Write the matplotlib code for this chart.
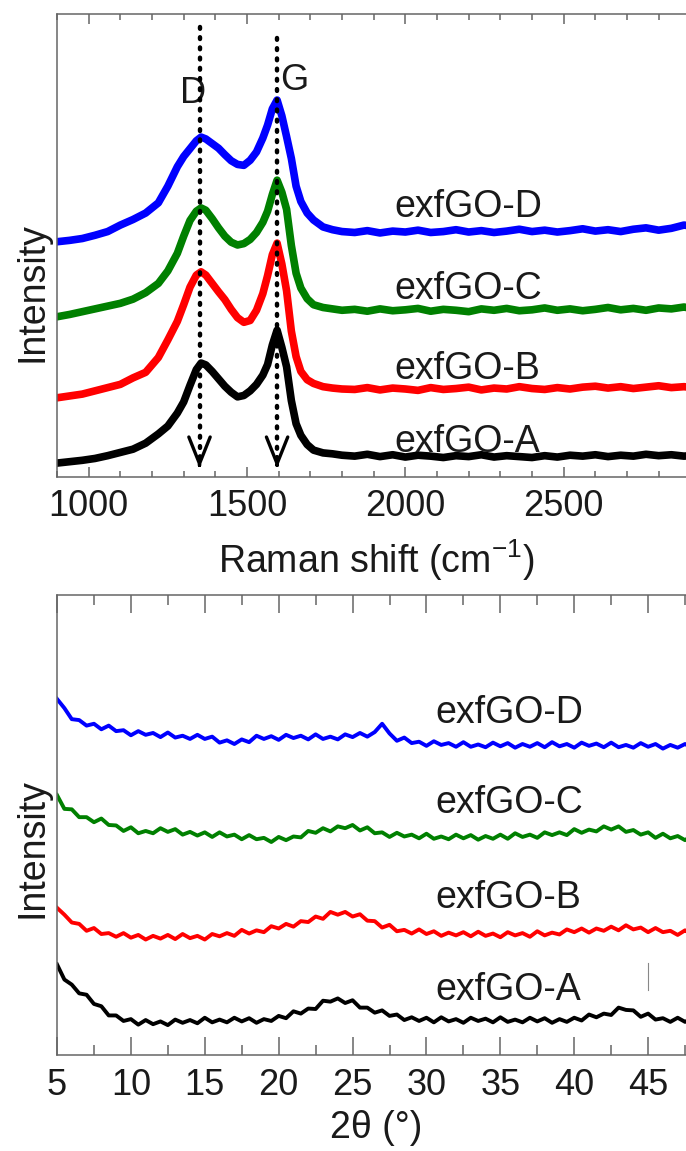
import numpy as np
import matplotlib
matplotlib.use("Agg")
import matplotlib.pyplot as plt
from matplotlib.ticker import MultipleLocator, FixedLocator

plt.rcParams['font.family'] = ['Liberation Sans', 'DejaVu Sans']
plt.rcParams['mathtext.fontset'] = 'custom'
plt.rcParams['mathtext.rm'] = 'Liberation Sans'
plt.rcParams['mathtext.default'] = 'regular'

# ─── Raman spectra (stacked, a.u.) ───────────────────────────
raman_shift = [900, 940, 980, 1020, 1060, 1100, 1140, 1180, 1220, 1250,
               1280, 1300, 1320, 1340, 1355, 1370, 1390, 1410, 1430, 1450,
               1470, 1490, 1510, 1530, 1550, 1565, 1580, 1595, 1610, 1625,
               1640, 1655, 1670, 1690, 1710, 1740, 1770, 1800,
               1840, 1880, 1920, 1960, 2000, 2040, 2080, 2120, 2160, 2200,
               2240, 2280, 2320, 2360, 2400, 2440, 2480, 2520, 2560, 2600,
               2640, 2680, 2720, 2760, 2800, 2840, 2880, 2920, 2960, 3000]

raman_a = [3.0, 3.3, 3.6, 4.0, 4.6, 5.3, 6.0, 7.3, 9.3, 11.0,
           13.8, 16.2, 19.8, 23.2, 24.6, 24.2, 22.8, 21.2, 19.6, 18.3,
           17.3, 17.6, 18.6, 20.0, 22.0, 24.3, 28.5, 31.7, 28.0, 23.8,
           16.5, 11.5, 9.0, 7.0, 5.8, 5.2, 5.0, 4.7,
           4.5, 4.9, 4.4, 4.8, 4.3, 4.7, 4.5, 4.2, 4.6, 4.4,
           4.8, 4.3, 4.6, 4.4, 4.2, 4.6, 4.3, 4.7, 4.5, 4.8,
           4.4, 4.7, 4.5, 4.9, 4.6, 4.8, 4.5, 4.7, 4.4, 4.6]

raman_b = [17.1, 17.5, 17.9, 18.6, 19.3, 20.0, 21.4, 22.6, 25.8, 29.6,
           33.6, 37.2, 41.0, 43.6, 44.3, 43.6, 41.8, 40.0, 38.3, 36.2,
           34.4, 33.4, 33.8, 36.0, 39.6, 43.5, 48.0, 50.5, 46.0, 40.2,
           31.5, 26.0, 22.8, 21.0, 20.2, 19.5, 19.2, 19.0,
           18.9, 19.3, 18.8, 19.2, 19.0, 18.7, 19.3, 18.9, 19.1, 19.4,
           18.8, 19.2, 19.0, 19.5, 19.1, 18.9, 19.3, 19.0, 19.4, 19.6,
           19.2, 19.5, 19.1, 19.4, 19.7, 19.3, 19.5, 19.2, 19.6, 19.4]

raman_c = [34.6, 35.1, 35.7, 36.3, 36.9, 37.5, 38.4, 39.8, 41.8, 44.5,
           48.3, 52.0, 55.4, 57.4, 58.1, 57.6, 55.8, 53.8, 52.0, 50.7,
           50.1, 50.4, 51.3, 52.8, 55.0, 57.4, 61.0, 64.1, 61.5, 57.8,
           50.0, 44.0, 40.8, 38.5, 37.2, 36.6, 36.3, 36.0,
           36.2, 35.8, 36.3, 35.9, 36.1, 36.4, 35.8, 36.2, 36.0, 35.7,
           36.3, 36.0, 36.4, 35.9, 36.1, 36.5, 36.0, 36.3, 35.9, 36.2,
           36.6, 36.1, 36.4, 36.0, 36.5, 36.3, 36.7, 36.2, 36.6, 36.4]

raman_d = [50.8, 51.1, 51.5, 52.2, 53.0, 54.4, 55.6, 57.0, 59.2, 62.8,
           67.0, 69.2, 70.9, 72.6, 73.4, 73.0, 72.0, 71.0, 69.6, 68.3,
           67.5, 67.3, 68.4, 70.2, 73.2, 76.0, 79.5, 81.4, 78.0, 73.5,
           68.8, 62.8, 59.5, 57.0, 55.5, 54.0, 53.4, 53.0,
           52.8, 53.2, 52.7, 53.1, 52.9, 53.3, 52.8, 53.0, 53.4, 52.9,
           53.2, 52.8, 53.1, 53.5, 53.0, 53.3, 52.9, 53.2, 53.6, 53.1,
           53.4, 53.0, 53.5, 53.8, 53.3, 53.7, 54.4, 54.0, 53.8, 54.2]

band_pos = [1350, 1595]
band_top = [97.2, 94.8]
band_names = ['D', 'G']

# ─── XRD patterns (stacked, a.u.), 2θ step 0.5° ──────────────
two_theta = np.arange(5.0, 50.5, 0.5)

xrd_a = [19.7, 16.4, 15.3, 13.4, 13.1, 11.1, 10.6, 8.6, 8.6, 7.4,
         7.8, 6.6, 7.6, 6.7, 7.3, 6.5, 7.7, 7.0, 7.6, 6.9,
         8.1, 7.1, 7.7, 7.1, 8.1, 7.3, 8.0, 7.0, 7.8, 7.4,
         8.5, 8.0, 9.5, 9.0, 10.1, 10.0, 11.8, 11.6, 12.3, 11.3,
         11.9, 10.3, 10.3, 9.2, 9.7, 8.5, 8.8, 7.6, 8.2, 7.4,
         8.1, 7.1, 8.2, 7.3, 7.8, 7.0, 8.1, 7.4, 7.9, 7.1,
         8.2, 7.2, 7.7, 7.1, 8.1, 7.3, 8.0, 7.0, 7.8, 7.2,
         8.1, 7.5, 8.8, 8.2, 9.0, 8.7, 10.3, 9.8, 9.7, 8.3,
         9.0, 7.7, 8.0, 7.2, 8.1, 7.2, 7.9, 6.9, 7.7, 7.1,
         7.9]

xrd_b = [32.0, 30.5, 28.8, 28.5, 27.0, 27.6, 26.3, 26.5, 25.7, 26.5,
         25.5, 26.1, 25.1, 25.9, 25.3, 26.1, 25.2, 26.3, 25.4, 25.9,
         25.1, 26.3, 25.8, 26.5, 25.9, 27.2, 26.4, 27.1, 26.7, 28.0,
         27.5, 28.5, 27.9, 29.1, 28.9, 30.1, 29.6, 31.1, 30.5, 31.1,
         30.1, 30.6, 29.2, 29.1, 27.7, 28.3, 26.9, 27.2, 26.4, 27.3,
         26.3, 26.9, 25.9, 26.6, 26.0, 26.7, 25.8, 26.8, 25.9, 26.4,
         25.6, 26.7, 26.0, 26.5, 25.7, 26.9, 26.0, 26.6, 26.2, 27.3,
         26.7, 27.5, 26.6, 27.5, 27.0, 27.9, 27.1, 28.2, 27.3, 27.7,
         26.7, 27.6, 26.7, 27.0, 26.1, 27.1, 26.1, 26.5, 25.9, 26.9,
         26.1]

xrd_c = [56.5, 53.5, 53.4, 51.7, 51.7, 50.6, 51.4, 50.0, 49.9, 48.7,
         49.5, 48.2, 48.7, 48.2, 49.3, 48.5, 49.1, 47.9, 48.5, 47.7,
         48.4, 47.4, 48.4, 47.5, 47.9, 46.9, 47.8, 46.9, 47.2, 46.3,
         47.4, 46.7, 47.5, 47.3, 48.7, 48.3, 49.3, 48.6, 49.7, 49.3,
         50.0, 48.8, 49.5, 48.2, 48.4, 47.4, 48.3, 47.5, 47.9, 47.1,
         48.1, 47.0, 47.5, 46.9, 47.9, 47.1, 47.8, 46.8, 47.6, 47.0,
         47.9, 47.0, 48.2, 47.4, 47.9, 47.2, 48.4, 47.8, 48.4, 47.8,
         49.1, 48.3, 49.0, 48.6, 49.7, 49.0, 49.7, 48.5, 48.9, 47.9,
         48.4, 47.2, 48.1, 47.1, 47.6, 46.7, 47.8, 47.0, 47.5, 46.7,
         47.8]

xrd_d = [77.4, 75.4, 73.0, 72.8, 71.6, 72.0, 70.8, 71.6, 70.4, 70.6,
         69.5, 70.4, 69.6, 70.0, 69.1, 70.1, 69.0, 69.4, 68.7, 69.6,
         68.7, 69.2, 67.9, 68.4, 67.6, 68.6, 68.0, 69.4, 68.7, 69.3,
         68.5, 69.6, 68.9, 69.4, 68.6, 69.7, 68.7, 69.2, 68.6, 69.7,
         69.1, 70.0, 69.2, 70.2, 72.0, 69.9, 68.3, 69.0, 67.8, 68.1,
         67.2, 68.2, 67.4, 67.8, 67.0, 68.0, 67.0, 67.5, 66.9, 67.9,
         67.1, 67.8, 66.8, 67.6, 67.0, 67.8, 66.9, 68.0, 67.1, 67.6,
         66.8, 67.9, 67.2, 67.7, 66.9, 67.9, 66.9, 67.4, 66.8, 67.8,
         67.0, 67.6, 66.6, 67.4, 66.8, 67.6, 66.7, 67.8, 66.9, 67.4,
         66.6]

samples = ['exfGO-A', 'exfGO-B', 'exfGO-C', 'exfGO-D']
colors = ['#000000', '#ff0000', '#008000', '#0000ff']
raman_label_y = [5.4, 21.2, 38.4, 56.2]
xrd_label_y = [12.0, 32.0, 52.6, 72.2]

SPINE = '#666666'
TEXT = '#1a1a1a'

fig = plt.figure(figsize=(6.86, 11.51), dpi=100)
fig.patch.set_facecolor('white')

# axes run past the right edge of the figure on purpose
ax1 = fig.add_axes([0.0831, 0.5856, 0.9694, 0.4023])
ax2 = fig.add_axes([0.0831, 0.0834, 0.9694, 0.3997])

def style_axes(ax, major_len, minor_len):
    for sp in ax.spines.values():
        sp.set_color(SPINE)
        sp.set_linewidth(1.1)
    ax.tick_params(axis='x', which='both', direction='in', top=True, bottom=True,
                   color=SPINE, width=1.1, labelcolor=TEXT, labelsize=26, pad=9)
    ax.tick_params(axis='x', which='major', length=major_len)
    ax.tick_params(axis='x', which='minor', length=minor_len)
    ax.tick_params(axis='y', which='both', left=False, right=False, labelleft=False)

# ─── Raman ───────────────────────────────────────────────────
for y, c in zip([raman_a, raman_b, raman_c, raman_d], colors):
    ax1.plot(raman_shift, y, color=c, lw=5.5, solid_joinstyle='round')

for name, ly in zip(samples, raman_label_y):
    ax1.text(1966, ly, name, fontsize=27, color=TEXT, ha='left', va='baseline', zorder=5)

# dotted guides for the D and G bands, with open arrow heads
for xb, yt in zip(band_pos, band_top):
    ax1.plot([xb, xb], [yt, 2.4], color='black', lw=3.2, ls=(0, (0.4, 1.9)),
             dash_capstyle='round', zorder=6)
    ax1.annotate('', xy=(xb, 1.9), xytext=(xb, 2.7),
                 arrowprops=dict(arrowstyle='->,head_length=0.8,head_width=0.32',
                                 color='black', lw=2.4, mutation_scale=24,
                                 shrinkA=0, shrinkB=0), zorder=6)

ax1.text(1329, 80.8, band_names[0], fontsize=26, color=TEXT, ha='center', va='baseline')
ax1.text(1649, 83.6, band_names[1], fontsize=26, color=TEXT, ha='center', va='baseline')

ax1.set_xlim(900, 3000)
ax1.set_ylim(0, 100)
ax1.xaxis.set_major_locator(FixedLocator([1000, 1500, 2000, 2500]))
ax1.xaxis.set_minor_locator(MultipleLocator(100))
style_axes(ax1, 7, 4.5)
ax1.set_xlabel('Raman shift (cm$^{-1}$)', fontsize=27, color=TEXT)
ax1.xaxis.set_label_coords(0.48, -0.13)
ax1.set_ylabel('Intensity', fontsize=27, color=TEXT)
ax1.yaxis.set_label_coords(-0.01, 0.40)

# ─── XRD ─────────────────────────────────────────────────────
for y, c in zip([xrd_a, xrd_b, xrd_c, xrd_d], colors):
    ax2.plot(two_theta, y, color=c, lw=2.8)

for name, ly in zip(samples, xrd_label_y):
    ax2.text(30.6, ly, name, fontsize=27, color=TEXT, ha='left', va='baseline', zorder=5)

ax2.plot([45, 45], [14.1, 20.0], color='#888888', lw=0.8)

ax2.set_xlim(5, 50)
ax2.set_ylim(0, 100)
ax2.xaxis.set_major_locator(FixedLocator([5, 10, 15, 20, 25, 30, 35, 40, 45]))
ax2.xaxis.set_minor_locator(MultipleLocator(2.5))
style_axes(ax2, 13, 7)
ax2.set_xlabel('2θ (°)', fontsize=27, color=TEXT)
ax2.xaxis.set_label_coords(0.48, -0.12)
ax2.set_ylabel('Intensity', fontsize=27, color=TEXT)
ax2.yaxis.set_label_coords(-0.01, 0.45)

fig.savefig('out.png', dpi=100, facecolor='white')
